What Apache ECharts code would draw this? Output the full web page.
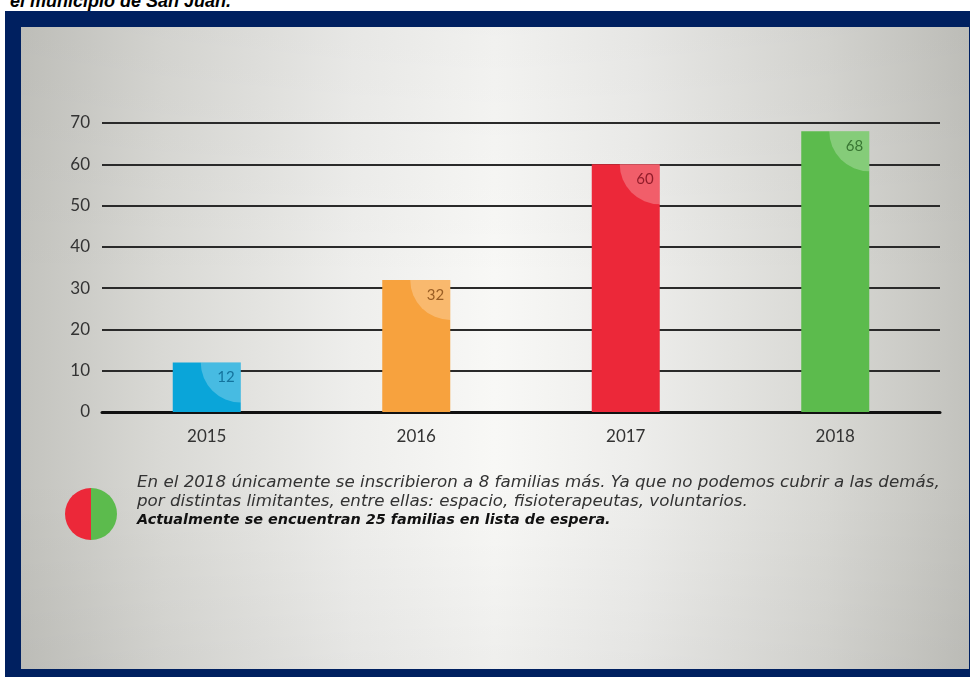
<!DOCTYPE html>
<html>
<head>
<meta charset="utf-8">
<script src="https://cdn.jsdelivr.net/npm/echarts@6/dist/echarts.min.js"></script>
<style>
html,body{margin:0;padding:0;width:970px;height:677px;overflow:hidden;background:#fff;}
#title{position:absolute;left:10px;top:-9px;font:italic bold 18px "Liberation Sans",Arial,sans-serif;color:#000;white-space:nowrap;}
#frame{position:absolute;left:5px;top:11px;width:965px;height:666px;background:#002060;}
#panel{position:absolute;left:21px;top:27px;width:948px;height:642px;
background:linear-gradient(to right,#c3c3be 0%,#d9d9d5 15%,#eeeeec 35%,#f8f8f6 50%,#ededeb 65%,#d8d8d4 85%,#c2c2bd 100%);}
#shade{position:absolute;left:21px;top:27px;width:948px;height:642px;
background:linear-gradient(to bottom,rgba(0,0,0,0.03) 0%,rgba(0,0,0,0) 40%,rgba(0,0,0,0) 70%,rgba(0,0,0,0.04) 100%);}
#chart{position:absolute;left:0;top:0;width:970px;height:677px;}
</style>
</head>
<body>
<div id="title">el municipio de San Juan.</div>
<div id="frame"></div>
<div id="panel"></div>
<div id="shade"></div>
<div id="chart"></div>
<script>
// ---- data ----
var years = ['2015', '2016', '2017', '2018'];
var families = [12, 32, 60, 68];
var barColors = ['#0aa5d9', '#f7a23e', '#ec2839', '#5cbb4d'];
var labelColors = ['#0a6690', '#8a4d16', '#80101f', '#2a6626'];
var yTicks = [0, 10, 20, 30, 40, 50, 60, 70];
var noteLines = [
  'En el 2018 únicamente se inscribieron a 8 familias más. Ya que no podemos cubrir a las demás,',
  'por distintas limitantes, entre ellas: espacio, fisioterapeutas, voluntarios.'
];
var noteBold = 'Actualmente se encuentran 25 familias en lista de espera.';

var FONT = 'Lato, "Open Sans", sans-serif';
var NOTEFONT = '"DejaVu Sans", sans-serif';
var BAR_W = 68;
var chart = echarts.init(document.getElementById('chart'), null, {renderer: 'canvas'});

var barData = families.map(function (v, i) {
  return {value: v, itemStyle: {color: barColors[i]}};
});

var option = {
  animation: false,
  grid: {left: 102, right: 30, top: 123, bottom: 265},
  xAxis: {
    type: 'category',
    data: years,
    axisLine: {show: true, lineStyle: {color: '#111', width: 3}},
    axisTick: {show: false},
    axisLabel: {color: '#333', fontSize: 17, fontFamily: FONT, margin: 16}
  },
  yAxis: {
    type: 'value',
    min: yTicks[0],
    max: yTicks[yTicks.length - 1],
    interval: 10,
    axisLine: {show: false},
    axisTick: {show: false},
    axisLabel: {color: '#333', fontSize: 17, fontFamily: FONT, margin: 12},
    splitLine: {show: true, lineStyle: {color: '#2a2a2a', width: 2}}
  },
  series: [
    {
      type: 'bar',
      data: barData,
      barWidth: BAR_W,
      z: 2
    },
    {
      type: 'custom',
      z: 5,
      silent: true,
      data: families.map(function (v, i) { return [i, v]; }),
      renderItem: function (params, api) {
        var idx = params.dataIndex;
        var p = api.coord([api.value(0), api.value(1)]);
        var right = p[0] + BAR_W / 2;
        return {
          type: 'group',
          children: [
            {
              type: 'sector',
              shape: {cx: right, cy: p[1], r0: 0, r: 40, startAngle: Math.PI / 2, endAngle: Math.PI},
              style: {fill: 'rgba(255,255,255,0.25)'}
            },
            {
              type: 'text',
              x: right - 6,
              y: p[1] + 15,
              style: {
                text: String(api.value(1)),
                font: '15px ' + FONT,
                fill: labelColors[idx],
                opacity: 0.85,
                align: 'right',
                verticalAlign: 'middle'
              }
            }
          ]
        };
      }
    }
  ],
  graphic: [
    {type: 'sector', shape: {cx: 91, cy: 514, r: 26, startAngle: Math.PI / 2, endAngle: Math.PI * 1.5}, style: {fill: '#ec2839'}},
    {type: 'sector', shape: {cx: 91, cy: 514, r: 26, startAngle: -Math.PI / 2, endAngle: Math.PI / 2}, style: {fill: '#5cbb4d'}},
    {type: 'text', left: 137, top: 474, style: {text: noteLines[0], font: 'oblique 16.7px ' + NOTEFONT, fill: '#333'}},
    {type: 'text', left: 137, top: 493, style: {text: noteLines[1], font: 'oblique 16.7px ' + NOTEFONT, fill: '#333'}},
    {type: 'text', left: 137, top: 513, style: {text: noteBold, font: 'oblique bold 14.4px ' + NOTEFONT, fill: '#111'}}
  ]
};
chart.setOption(option);
</script>
</body>
</html>
